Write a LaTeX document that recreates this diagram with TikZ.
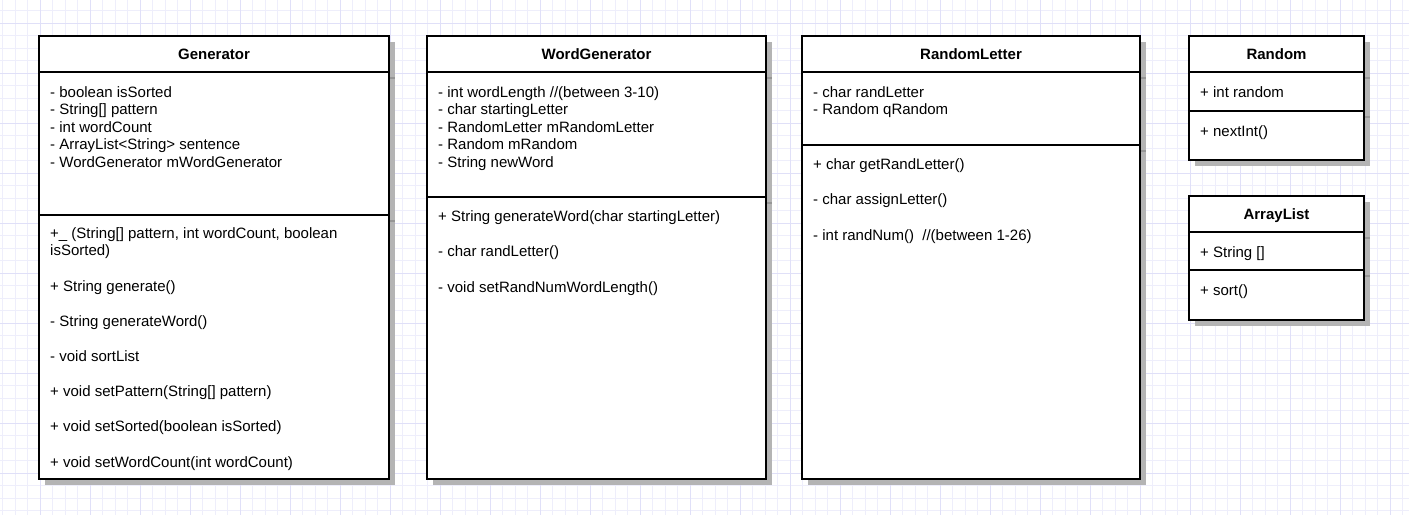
\documentclass[tikz,border=0pt]{standalone}
\usepackage{fontspec}
\setmainfont{Liberation Sans}
\usepackage{xcolor}
\usepackage{tikz}

\definecolor{gridminor}{RGB}{238,238,251}
\definecolor{gridmajor}{RGB}{224,224,248}
\definecolor{shade}{RGB}{180,180,180}
\definecolor{shadeline}{RGB}{150,150,150}

\tikzset{
  classbox/.style={draw=black, line width=2.6pt, fill=white},
  shadowbox/.style={fill=shade, draw=none},
  divider/.style={line width=2.6pt},
  shadowline/.style={shadeline, line width=2pt},
  classtitle/.style={anchor=base, inner sep=0pt, font=\fontsize{15}{17.6}\selectfont\bfseries},
  % multi-line members are placed by the baseline of their last line
  member/.style={anchor=base west, inner sep=0pt, align=left, font=\fontsize{15}{17.6}\selectfont},
}

\begin{document}
\begin{tikzpicture}[x=1pt,y=-1pt]
    \useasboundingbox[fill=white] (0,0) rectangle (1409,515);

    % Background grid
    \foreach \gx in {2.5,15,...,1409} \draw[gridminor,line width=0.8pt] (\gx,0) -- (\gx,515);
    \foreach \gy in {10.5,23,...,515} \draw[gridminor,line width=0.8pt] (0,\gy) -- (1409,\gy);
    \foreach \gx in {40,90,...,1409} \draw[gridmajor,line width=0.8pt] (\gx,0) -- (\gx,515);
    \foreach \gy in {23,73,...,515} \draw[gridmajor,line width=0.8pt] (0,\gy) -- (1409,\gy);

    % Generator
    \fill[shadowbox] (45,42) rectangle (395,485);
    \draw[shadowline] (45,78) -- (395,78) (45,221) -- (395,221);
    \draw[classbox] (39,36) rectangle (389,479);
    \draw[divider] (39,72) -- (389,72) (39,215) -- (389,215);
    \node[classtitle] (gen-title) at (214,59.5) {Generator};
    \node[member] (gen-attr) at (50,167.4) {- boolean isSorted\\- String[] pattern\\- int wordCount\\- ArrayList<String> sentence\\- WordGenerator mWordGenerator};
    \node[member] (gen-meth) at (50,467) {+\_ (String[] pattern, int wordCount, boolean\\isSorted)\\[17.6pt]+ String generate()\\[17.6pt]- String generateWord()\\[17.6pt]- void sortList\\[17.6pt]+ void setPattern(String[] pattern)\\[17.6pt]+ void setSorted(boolean isSorted)\\[17.6pt]+ void setWordCount(int wordCount)};

    % WordGenerator
    \fill[shadowbox] (433,42) rectangle (772,485);
    \draw[shadowline] (433,78) -- (772,78) (433,203) -- (772,203);
    \draw[classbox] (427,36) rectangle (766,479);
    \draw[divider] (427,72) -- (766,72) (427,197) -- (766,197);
    \node[classtitle] (wgen-title) at (596.5,59.5) {WordGenerator};
    \node[member] (wgen-attr) at (438,167.4) {- int wordLength //(between 3-10)\\- char startingLetter\\- RandomLetter mRandomLetter\\- Random mRandom\\- String newWord};
    \node[member] (wgen-meth) at (438,292) {+ String generateWord(char startingLetter)\\[17.6pt]- char randLetter()\\[17.6pt]- void setRandNumWordLength()};

    % RandomLetter
    \fill[shadowbox] (808,42) rectangle (1146,485);
    \draw[shadowline] (808,78) -- (1146,78) (808,151) -- (1146,151);
    \draw[classbox] (802,36) rectangle (1140,479);
    \draw[divider] (802,72) -- (1140,72) (802,145) -- (1140,145);
    \node[classtitle] (rlet-title) at (971,59.5) {RandomLetter};
    \node[member] (rlet-attr) at (813,114.6) {- char randLetter\\- Random qRandom};
    \node[member] (rlet-meth) at (813,240) {+ char getRandLetter()\\[17.6pt]- char assignLetter()\\[17.6pt]- int randNum()~~//(between 1-26)};

    % Random
    \fill[shadowbox] (1195,42) rectangle (1370,166);
    \draw[shadowline] (1195,78) -- (1370,78) (1195,117) -- (1370,117);
    \draw[classbox] (1189,36) rectangle (1364,160);
    \draw[divider] (1189,72) -- (1364,72) (1189,111) -- (1364,111);
    \node[classtitle] (rnd-title) at (1276.5,59.5) {Random};
    \node[member] (rnd-attr) at (1200,97) {+ int random};
    \node[member] (rnd-meth) at (1200,136) {+ nextInt()};

    % ArrayList
    \fill[shadowbox] (1195,202) rectangle (1370,326);
    \draw[shadowline] (1195,238) -- (1370,238) (1195,276) -- (1370,276);
    \draw[classbox] (1189,196) rectangle (1364,320);
    \draw[divider] (1189,232) -- (1364,232) (1189,270) -- (1364,270);
    \node[classtitle] (alist-title) at (1276.5,219.5) {ArrayList};
    \node[member] (alist-attr) at (1200,257) {+ String []};
    \node[member] (alist-meth) at (1200,295) {+ sort()};
\end{tikzpicture}
\end{document}
